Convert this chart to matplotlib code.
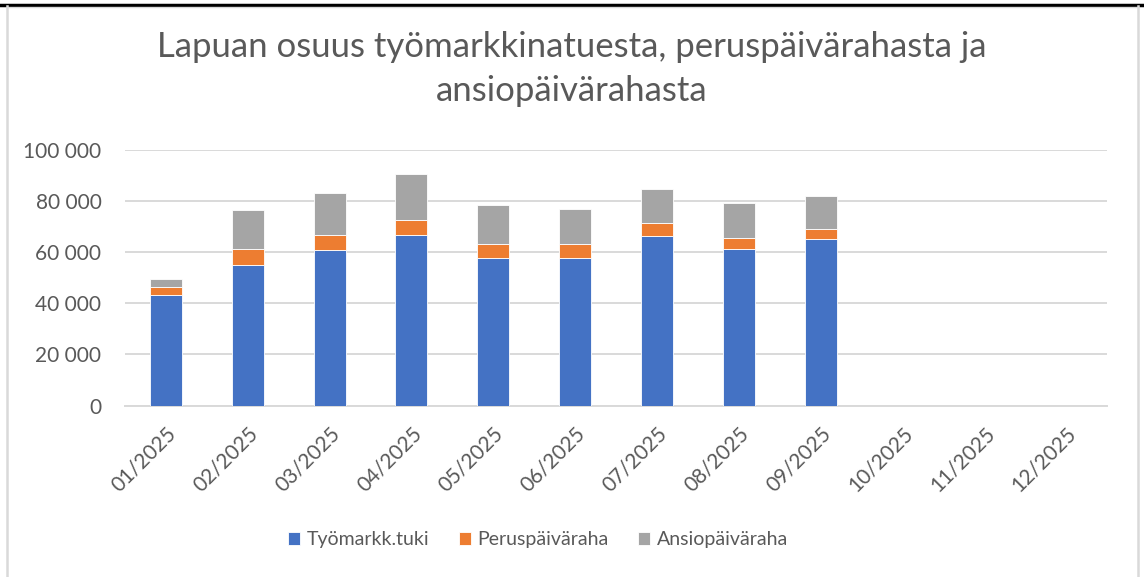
import matplotlib
matplotlib.use("Agg")
import matplotlib.pyplot as plt
from matplotlib.lines import Line2D
from matplotlib.ticker import FuncFormatter
import numpy as np

months = ["01/2025", "02/2025", "03/2025", "04/2025", "05/2025", "06/2025",
          "07/2025", "08/2025", "09/2025", "10/2025", "11/2025", "12/2025"]
tyomarkk_tuki = [43200, 54900, 60800, 66900, 57900, 57900, 66500, 61200, 65300, np.nan, np.nan, np.nan]
peruspaivaraha = [3350, 6250, 6100, 5800, 5450, 5350, 5050, 4550, 3900, np.nan, np.nan, np.nan]
ansiopaivaraha = [3150, 15500, 16400, 18000, 15250, 13600, 13300, 13550, 12700, np.nan, np.nan, np.nan]
series_names = ["Työmarkk.tuki", "Peruspäiväraha", "Ansiopäiväraha"]
title = "Lapuan osuus työmarkkinatuesta, peruspäivärahasta ja\nansiopäivärahasta"

plt.rcParams['font.family'] = ['Lato', 'DejaVu Sans']
txt = "#595959"

fig = plt.figure(figsize=(11.44, 5.77), dpi=100)
ax = fig.add_axes([125/1144, 1-405.5/577, (1107-125)/1144, (405.5-150)/577])

x = np.arange(len(months))
a = np.array(tyomarkk_tuki, dtype=float)
b = np.array(peruspaivaraha, dtype=float)
c = np.array(ansiopaivaraha, dtype=float)
w = 0.39
colors = ["#4472C4", "#ED7D31", "#A5A5A5"]
ec = "#ffffff"
ax.bar(x, a, w, color=colors[0], label=series_names[0], zorder=3, edgecolor=ec, linewidth=0.6)
ax.bar(x, b, w, bottom=a, color=colors[1], label=series_names[1], zorder=3, edgecolor=ec, linewidth=0.6)
ax.bar(x, c, w, bottom=a + b, color=colors[2], label=series_names[2], zorder=3, edgecolor=ec, linewidth=0.6)

ax.set_xlim(-0.5, len(months) - 0.5)
ax.set_ylim(0, 100000)
ax.set_yticks(np.arange(0, 100001, 20000))
ax.yaxis.set_major_formatter(FuncFormatter(lambda v, p: f"{int(v):,}".replace(",", " ")))
ax.grid(axis='y', color="#d9d9d9", linewidth=1.4, zorder=0)
for s in ["top", "right", "left"]:
    ax.spines[s].set_visible(False)
ax.spines["bottom"].set_color("#d9d9d9")
ax.spines["bottom"].set_linewidth(1.4)
ax.tick_params(axis='both', length=0, colors=txt, labelsize=15)
ax.tick_params(axis='y', pad=17)
ax.set_xticks(x)
ax.set_xticklabels(months, rotation=45, ha='right', rotation_mode='anchor')
ax.tick_params(axis='x', pad=13)

fig.suptitle(title, x=0.4995, y=1-31/577, va='top', fontsize=25, color=txt,
             linespacing=1.45)

leg = fig.legend(loc='center', bbox_to_anchor=(538/1144, 1-540/577), ncol=3, frameon=False,
                 fontsize=14, labelcolor=txt, handlelength=0.62, handleheight=0.62,
                 handletextpad=0.35, columnspacing=1.5)

fig.add_artist(Line2D([0, 1], [1-4.5/577]*2, color="black", linewidth=2.5, transform=fig.transFigure))
fig.add_artist(Line2D([7/1144]*2, [0, 1-6/577], color="#d9d9d9", linewidth=1.8, transform=fig.transFigure))
fig.add_artist(Line2D([1137.5/1144]*2, [0, 1-6/577], color="#d9d9d9", linewidth=1.8, transform=fig.transFigure))
fig.add_artist(Line2D([7/1144, 1137.5/1144], [1-6.5/577]*2, color="#d9d9d9", linewidth=1.0, transform=fig.transFigure))

fig.savefig("out.png", dpi=100)
